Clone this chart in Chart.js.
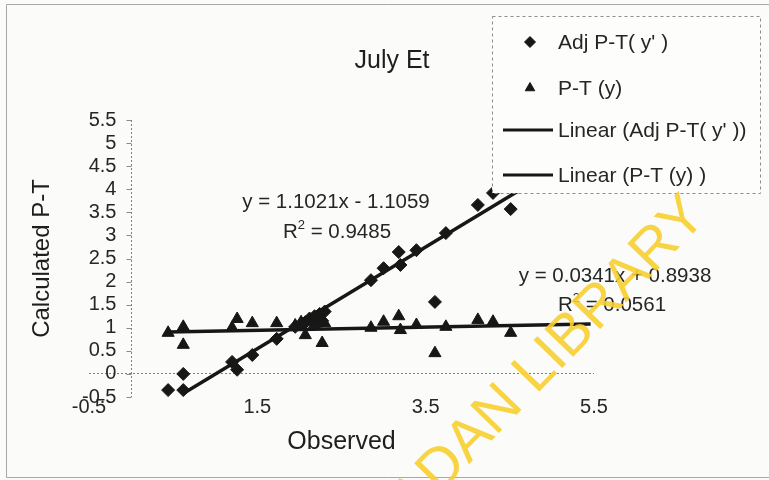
<!DOCTYPE html>
<html>
<head>
<meta charset="utf-8">
<script src="https://cdn.jsdelivr.net/npm/chart.js@4.4.0/dist/chart.umd.min.js"></script>
<style>
  html, body { margin: 0; padding: 0; background: #fbfbf9; }
  #wrap { width: 769px; height: 480px; }
</style>
</head>
<body>
<div id="wrap"><canvas id="c" width="769" height="480"></canvas></div>
<script>
// values
const observed = [0.44, 0.62, 0.62, 1.20, 1.26, 1.44, 1.73, 1.95, 2.02, 2.07, 2.12, 2.18, 2.24, 2.27, 2.30, 2.85, 3.00, 3.18, 3.20, 3.39, 3.61, 3.74, 4.12, 4.30, 4.51, 5.46];
const adjPT    = [-0.35, 0.00, -0.35, 0.26, 0.09, 0.41, 0.76, 1.02, 1.08, 1.12, 1.20, 1.25, 1.30, 1.15, 1.35, 2.03, 2.29, 2.64, 2.36, 2.68, 1.56, 3.05, 3.66, 3.92, 3.57, 4.90];
const ptVals   = [0.89, 1.02, 0.63, 1.00, 1.19, 1.10, 1.10, 1.05, 1.12, 0.84, 1.15, 1.08, 1.20, 0.67, 1.10, 1.00, 1.13, 1.25, 0.95, 1.06, 0.45, 1.02, 1.17, 1.13, 0.89, null];

// trend lines (slope, intercept) and the x span they cover
const adjTrendCoef  = [1.1021, -1.1059];
const adjTrendRange = [0.62, 5.46];
const ptTrendCoef   = [0.0341, 0.8938];
const ptTrendRange  = [0.44, 5.46];

const chartTitle = 'July Et';
const adjEquation = 'y = 1.1021x - 1.1059';
const adjR2 = '0.9485';
const ptEquation = 'y = 0.0341x + 0.8938';
const ptR2 = '0.0561';

const xTicks = [-0.5, 0, 1.5, 3.5, 5.5];
const yTicks = [-0.5, 0, 0.5, 1, 1.5, 2, 2.5, 3, 3.5, 4, 4.5, 5, 5.5];

const FONT = "'Liberation Sans', Arial, sans-serif";
const INK = '#171717';

function trend(coef, range) {
  return range.map(x => ({ x: x, y: coef[0] * x + coef[1] }));
}

// R² with a raised 2, centred on cx
function drawR2(ctx, value, cx, cy) {
  ctx.font = '20.5px ' + FONT;
  const wR = ctx.measureText('R').width;
  const rest = ' = ' + value;
  const wRest = ctx.measureText(rest).width;
  ctx.font = '13px ' + FONT;
  const w2 = ctx.measureText('2').width;
  const x = cx - (wR + w2 + wRest) / 2;
  ctx.textAlign = 'left';
  ctx.font = '20.5px ' + FONT;
  ctx.fillText('R', x, cy);
  ctx.font = '13px ' + FONT;
  ctx.fillText('2', x + wR, cy - 7);
  ctx.font = '20.5px ' + FONT;
  ctx.fillText(rest, x + wR + w2, cy);
}

const paperPlugin = {
  id: 'paper',
  beforeDraw(chart) {
    const ctx = chart.ctx;
    ctx.save();
    ctx.fillStyle = '#fbfbf9';
    ctx.fillRect(0, 0, chart.width, chart.height);
    ctx.strokeStyle = '#a8a8a8';
    ctx.lineWidth = 1;
    ctx.beginPath();
    ctx.moveTo(6.5, 4.5); ctx.lineTo(6.5, 477.5);
    ctx.moveTo(6.5, 4.5); ctx.lineTo(769, 4.5);
    ctx.moveTo(6.5, 477.5); ctx.lineTo(769, 477.5);
    ctx.stroke();
    ctx.restore();
  },
  beforeDatasetsDraw(chart) {
    // small tick marks on the vertical axis, which crosses at x = 0
    const ctx = chart.ctx;
    const x0 = Math.round(chart.scales.x.getPixelForValue(0)) + 0.5;
    ctx.save();
    ctx.strokeStyle = '#8a8a8a';
    ctx.lineWidth = 1;
    ctx.beginPath();
    yTicks.forEach(v => {
      const y = Math.round(chart.scales.y.getPixelForValue(v)) + 0.5;
      ctx.moveTo(x0 - 5, y);
      ctx.lineTo(x0, y);
    });
    ctx.stroke();
    ctx.restore();
  }
};

const notesPlugin = {
  id: 'notes',
  afterDraw(chart) {
    const ctx = chart.ctx;
    ctx.save();
    ctx.fillStyle = '#1e1e1e';
    ctx.textBaseline = 'middle';

    // chart title, centred on the whole chart like the original
    ctx.font = '25px ' + FONT;
    ctx.textAlign = 'center';
    ctx.fillText(chartTitle, 392, 61);

    // trendline labels
    ctx.fillStyle = '#262626';
    ctx.font = '20.5px ' + FONT;
    ctx.fillText(adjEquation, 336, 202);
    drawR2(ctx, adjR2, 337, 232);
    ctx.font = '20.5px ' + FONT;
    ctx.textAlign = 'center';
    ctx.fillText(ptEquation, 615, 276);
    drawR2(ctx, ptR2, 612, 305);

    // legend box over the plot
    const lx = 492, ly = 16, lw = 268, lh = 177;
    ctx.fillStyle = '#fdfdfb';
    ctx.fillRect(lx, ly, lw, lh);
    ctx.setLineDash([3, 3]);
    ctx.strokeStyle = '#8c8c8c';
    ctx.lineWidth = 1;
    ctx.strokeRect(lx + 0.5, ly + 0.5, lw, lh);
    ctx.setLineDash([]);

    const rows = [42, 88, 130, 175];
    ctx.font = '21px ' + FONT;
    ctx.textAlign = 'left';
    chart.data.datasets.forEach((ds, i) => {
      const y = rows[i];
      ctx.fillStyle = INK;
      ctx.strokeStyle = INK;
      if (ds.showLine) {
        ctx.lineWidth = 3;
        ctx.beginPath();
        ctx.moveTo(503, y);
        ctx.lineTo(553, y);
        ctx.stroke();
      } else {
        Chart.helpers.drawPoint(ctx, { pointStyle: ds.pointStyle, radius: 5.5, borderWidth: 1, rotation: 0 }, 530, y);
      }
      ctx.fillStyle = '#262626';
      ctx.fillText(ds.label, 558, y + 1);
    });

    // library watermark on the scan
    ctx.translate(536, 395);
    ctx.rotate(-0.80);
    ctx.fillStyle = 'rgba(247, 206, 45, 0.9)';
    ctx.font = '58px ' + FONT;
    ctx.textBaseline = 'alphabetic';
    ctx.textAlign = 'left';
    ctx.fillText('LIBRARY', 0, 0);
    ctx.textAlign = 'right';
    ctx.fillText('IBADAN ', 0, 0);
    ctx.restore();
  }
};

const zeroLine = (c) => (c.tick && c.tick.value === 0) ? '#7e7e7e' : 'rgba(0,0,0,0)';

new Chart(document.getElementById('c'), {
  type: 'scatter',
  data: {
    datasets: [
      {
        label: "Adj P-T( y' )",
        data: observed.map((x, i) => ({ x: x, y: adjPT[i] })),
        pointStyle: 'rectRot',
        pointRadius: 6.5,
        backgroundColor: INK,
        borderColor: INK,
        borderWidth: 1
      },
      {
        label: 'P-T (y)',
        data: observed.map((x, i) => ({ x: x, y: ptVals[i] })),
        pointStyle: 'triangle',
        pointRadius: 7,
        backgroundColor: INK,
        borderColor: INK,
        borderWidth: 1
      },
      {
        label: "Linear (Adj P-T( y' ))",
        data: trend(adjTrendCoef, adjTrendRange),
        showLine: true,
        pointRadius: 0,
        borderColor: INK,
        borderWidth: 3.5
      },
      {
        label: 'Linear (P-T (y) )',
        data: trend(ptTrendCoef, ptTrendRange),
        showLine: true,
        pointRadius: 0,
        borderColor: INK,
        borderWidth: 3.5
      }
    ]
  },
  options: {
    responsive: false,
    animation: false,
    layout: { padding: { left: 24, right: 175, top: 120, bottom: 23 } },
    scales: {
      x: {
        type: 'linear',
        min: -0.5,
        max: 5.5,
        afterBuildTicks: s => { s.ticks = xTicks.map(v => ({ value: v })); },
        grid: { drawTicks: false, color: zeroLine, lineWidth: 1 },
        border: { display: false, dash: [2, 2] },
        ticks: {
          autoSkip: false,
          padding: 0,
          color: '#262626',
          font: { family: FONT, size: 20, lineHeight: 1 },
          maxRotation: 0,
          callback: v => v === 0 ? '' : String(v)
        },
        title: {
          display: true,
          text: 'Observed',
          color: '#1e1e1e',
          font: { family: FONT, size: 25, lineHeight: 1.2 },
          padding: { top: 10, bottom: 0 }
        }
      },
      y: {
        type: 'linear',
        min: -0.5,
        max: 5.5,
        afterBuildTicks: s => { s.ticks = yTicks.map(v => ({ value: v })); },
        grid: { drawTicks: false, color: zeroLine, lineWidth: 1 },
        border: { display: false, dash: [2, 2] },
        ticks: {
          autoSkip: false,
          mirror: true,
          crossAlign: 'far',
          padding: -7,
          color: '#262626',
          font: { family: FONT, size: 20, lineHeight: 1 },
          callback: v => String(v)
        },
        title: {
          display: true,
          text: 'Calculated P-T',
          color: '#1e1e1e',
          font: { family: FONT, size: 24, lineHeight: 1.2 },
          padding: { top: 4, bottom: 46.2 }
        }
      }
    },
    plugins: {
      legend: { display: false },
      tooltip: { enabled: false },
      title: { display: false }
    }
  },
  plugins: [paperPlugin, notesPlugin]
});
</script>
</body>
</html>
